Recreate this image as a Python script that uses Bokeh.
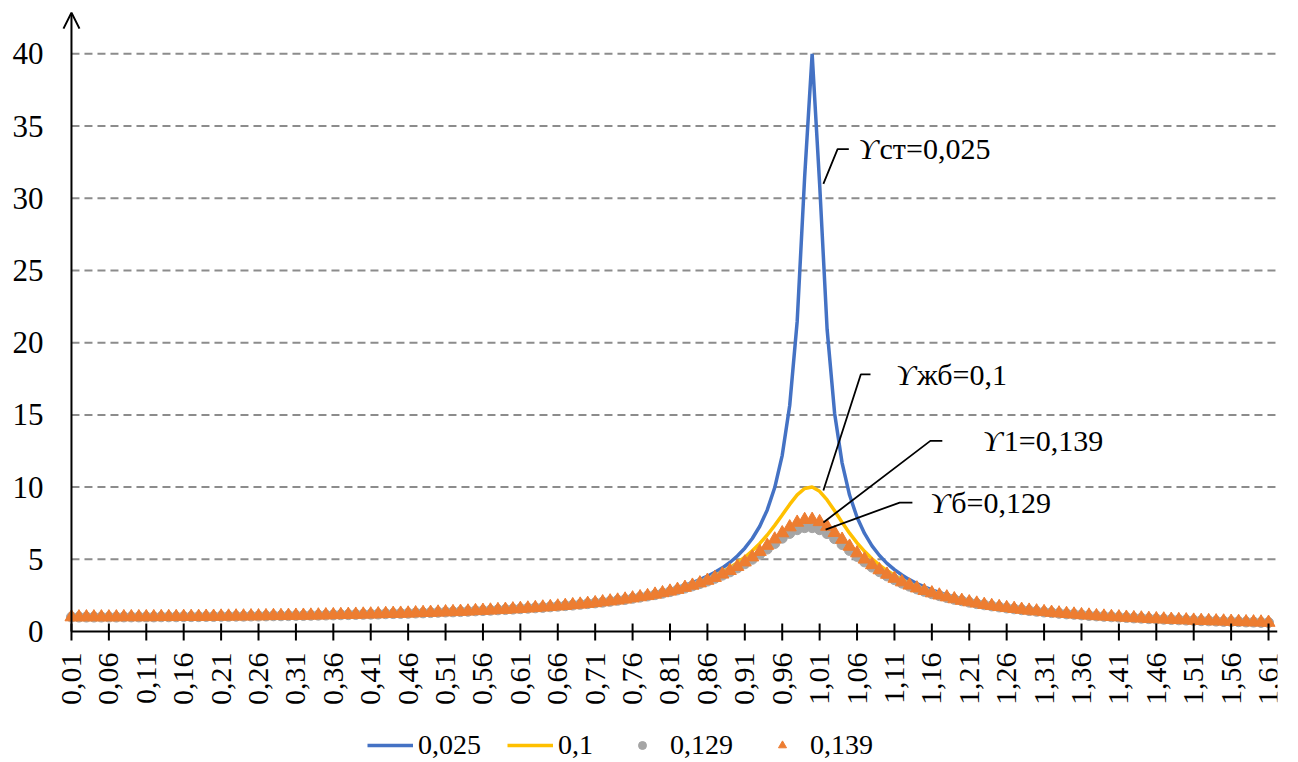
import math
from bokeh.plotting import figure
from bokeh.models import Range1d, FixedTicker, Legend, LegendItem, Arrow, OpenHead
from bokeh.core.properties import value
from bokeh.embed import file_html
from bokeh.resources import INLINE

# ---- data -------------------------------------------------------------
ratio = [round(0.01 * i, 2) for i in range(1, 162)]          # 0,01 ... 1,61
tick_labels = ["{:.2f}".format(r).replace(".", ",") for r in ratio]

series_names = ["0,025", "0,1", "0,129", "0,139"]

low_part = [1.00, 1.00, 1.00, 1.00, 1.00, 1.00, 1.00, 1.01, 1.01, 1.01,
            1.01, 1.01, 1.02, 1.02, 1.02, 1.03, 1.03, 1.03, 1.04, 1.04,
            1.05, 1.05, 1.06, 1.06, 1.07, 1.07, 1.08, 1.09, 1.09, 1.10,
            1.11, 1.11, 1.12, 1.13, 1.14, 1.15, 1.16, 1.17, 1.18, 1.19,
            1.20, 1.21, 1.23, 1.24, 1.25]

blue_vals = low_part + [
    1.27, 1.28, 1.30, 1.32, 1.33,
    1.35, 1.37, 1.39, 1.41, 1.43, 1.46, 1.48, 1.51, 1.53, 1.56,
    1.59, 1.62, 1.66, 1.69, 1.73, 1.77, 1.81, 1.86, 1.91, 1.96,
    2.02, 2.07, 2.14, 2.21, 2.28, 2.37, 2.45, 2.55, 2.66, 2.77,
    2.90, 3.05, 3.21, 3.39, 3.59, 3.83, 4.10, 4.41, 4.78, 5.23,
    5.77, 6.44, 7.29, 8.42, 9.97, 12.20, 15.65, 21.47, 31.49, 40.00,
    30.99, 20.93, 15.12, 11.68, 9.45, 7.91, 6.79, 5.93, 5.26, 4.72,
    4.28, 3.91, 3.59, 3.32, 3.09, 2.88, 2.70, 2.54, 2.40, 2.27,
    2.15, 2.04, 1.95, 1.86, 1.78, 1.70, 1.63, 1.56, 1.50, 1.45,
    1.39, 1.35, 1.30, 1.26, 1.21, 1.18, 1.14, 1.10, 1.07, 1.04,
    1.01, 0.98, 0.96, 0.93, 0.91, 0.88, 0.86, 0.84, 0.82, 0.80,
    0.78, 0.76, 0.75, 0.73, 0.71, 0.70, 0.68, 0.67, 0.65, 0.64, 0.63]

yellow_vals = low_part + [
    1.27, 1.28, 1.30, 1.31, 1.33,
    1.35, 1.37, 1.39, 1.41, 1.43, 1.45, 1.48, 1.50, 1.53, 1.56,
    1.59, 1.62, 1.65, 1.68, 1.72, 1.76, 1.80, 1.85, 1.89, 1.94,
    2.00, 2.05, 2.12, 2.18, 2.25, 2.33, 2.41, 2.50, 2.60, 2.71,
    2.83, 2.96, 3.11, 3.27, 3.45, 3.65, 3.87, 4.13, 4.42, 4.76,
    5.14, 5.59, 6.10, 6.68, 7.35, 8.07, 8.80, 9.46, 9.90, 10.00,
    9.71, 9.11, 8.36, 7.56, 6.81, 6.14, 5.55, 5.04, 4.60, 4.22,
    3.89, 3.60, 3.34, 3.12, 2.92, 2.74, 2.58, 2.44, 2.31, 2.19,
    2.09, 1.99, 1.90, 1.81, 1.74, 1.66, 1.60, 1.54, 1.48, 1.42,
    1.37, 1.33, 1.28, 1.24, 1.20, 1.16, 1.13, 1.09, 1.06, 1.03,
    1.00, 0.97, 0.95, 0.92, 0.90, 0.88, 0.85, 0.83, 0.81, 0.79,
    0.78, 0.76, 0.74, 0.72, 0.71, 0.69, 0.68, 0.66, 0.65, 0.64, 0.62]

gray_vals = low_part + [
    1.26, 1.28, 1.29, 1.31, 1.33,
    1.35, 1.36, 1.38, 1.40, 1.43, 1.45, 1.47, 1.50, 1.52, 1.55,
    1.58, 1.61, 1.64, 1.67, 1.71, 1.75, 1.79, 1.83, 1.88, 1.93,
    1.98, 2.03, 2.09, 2.16, 2.22, 2.30, 2.38, 2.46, 2.55, 2.65,
    2.76, 2.88, 3.01, 3.16, 3.32, 3.49, 3.68, 3.90, 4.13, 4.40,
    4.69, 5.00, 5.35, 5.71, 6.09, 6.46, 6.79, 7.05, 7.19, 7.19,
    7.05, 6.78, 6.43, 6.02, 5.61, 5.20, 4.82, 4.46, 4.14, 3.85,
    3.59, 3.35, 3.14, 2.95, 2.78, 2.62, 2.48, 2.35, 2.23, 2.13,
    2.03, 1.93, 1.85, 1.77, 1.70, 1.63, 1.57, 1.51, 1.45, 1.40,
    1.35, 1.31, 1.26, 1.22, 1.19, 1.15, 1.11, 1.08, 1.05, 1.02,
    0.99, 0.97, 0.94, 0.92, 0.89, 0.87, 0.85, 0.83, 0.81, 0.79,
    0.77, 0.75, 0.74, 0.72, 0.70, 0.69, 0.68, 0.66, 0.65, 0.63, 0.62]

orange_vals = low_part + [
    1.26, 1.28, 1.30, 1.31, 1.33,
    1.35, 1.36, 1.38, 1.40, 1.43, 1.45, 1.47, 1.50, 1.52, 1.55,
    1.58, 1.61, 1.64, 1.68, 1.71, 1.75, 1.79, 1.84, 1.88, 1.93,
    1.98, 2.04, 2.10, 2.16, 2.23, 2.31, 2.39, 2.47, 2.57, 2.67,
    2.78, 2.90, 3.04, 3.19, 3.35, 3.53, 3.73, 3.96, 4.21, 4.49,
    4.80, 5.15, 5.53, 5.95, 6.39, 6.82, 7.23, 7.55, 7.74, 7.75,
    7.59, 7.27, 6.84, 6.37, 5.89, 5.43, 5.00, 4.61, 4.26, 3.95,
    3.67, 3.42, 3.20, 3.00, 2.82, 2.66, 2.51, 2.38, 2.25, 2.14,
    2.04, 1.95, 1.86, 1.78, 1.71, 1.64, 1.58, 1.52, 1.46, 1.41,
    1.36, 1.31, 1.27, 1.23, 1.19, 1.15, 1.12, 1.08, 1.05, 1.02,
    1.00, 0.97, 0.94, 0.92, 0.89, 0.87, 0.85, 0.83, 0.81, 0.79,
    0.77, 0.75, 0.74, 0.72, 0.71, 0.69, 0.68, 0.66, 0.65, 0.64, 0.62]

y_ticks = [0, 5, 10, 15, 20, 25, 30, 35, 40]
x_tick_idx = list(range(0, 161, 5))

# callout labels (Greek symbol + rest) and their leader lines, in data units
ann_symbol = ["ϒ", "ϒ", "ϒ", "ϒ"]
ann_rest = ["ст=0,025", "жб=0,1", "1=0,139", "б=0,129"]
ann_x = [105.2, 110.2, 121.8, 114.8]
ann_y = [33.45, 17.8, 13.25, 8.9]
leader_xs = [[100.5, 102.4, 103.9], [100.5, 105.5, 106.8],
             [100.5, 114.8, 116.4], [100.8, 110.7, 112.4]]
leader_ys = [[31.0, 33.4, 33.4], [9.76, 17.8, 17.8],
             [7.55, 13.2, 13.2], [7.06, 8.93, 8.93]]

# ---- figure -----------------------------------------------------------
FONT = "Liberation Serif"
X_END = 161.2
Y_TOP = 43.0
Y_BOT = -9.07                      # room below the axis for labels + legend
PX = 752.0 / (Y_TOP - Y_BOT)       # pixels per y unit

p = figure(width=1298, height=762,
           x_range=Range1d(-1.6, X_END), y_range=Range1d(Y_BOT, Y_TOP),
           x_axis_location=None,
           output_backend="svg", toolbar_location=None,
           min_border_left=59, min_border_right=21,
           min_border_top=10, min_border_bottom=0)
p.outline_line_color = None
p.background_fill_color = "white"
p.xgrid.visible = False
p.ygrid.visible = False

# value axis labels (Bokeh), its line + arrow drawn at x=0
ya = p.yaxis[0]
ya.ticker = FixedTicker(ticks=y_ticks)
ya.major_label_text_font = FONT
ya.major_label_text_font_size = "31px"
ya.major_label_text_color = "black"
ya.major_label_standoff = 16
ya.axis_line_color = None
ya.major_tick_in = 0
ya.major_tick_out = 0
ya.minor_tick_line_color = None

# dashed horizontal grid, from the value axis to the right end
grid_y = y_ticks[1:]
p.segment(x0=[0] * len(grid_y), y0=grid_y, x1=[X_END] * len(grid_y), y1=grid_y,
          line_color="#8c8c8c", line_width=2, line_dash="8 5")

# series
rb = p.line(list(range(len(blue_vals))), blue_vals, line_color="#4472C4", line_width=3.5)
ry = p.line(list(range(len(yellow_vals))), yellow_vals, line_color="#FFC000", line_width=3.5)
rg = p.scatter(list(range(len(gray_vals))), gray_vals, marker="circle", size=10,
               fill_color="#A5A5A5", line_color="#A5A5A5")
ro = p.scatter(list(range(len(orange_vals))), orange_vals, marker="triangle", size=13,
               fill_color="#ED7D31", line_color="#ED7D31")

# category axis: line, tick marks crossing it, vertical labels
p.segment(x0=[0], y0=[0], x1=[X_END], y1=[0], line_color="black", line_width=2)
p.segment(x0=x_tick_idx, y0=[8 / PX] * len(x_tick_idx),
          x1=x_tick_idx, y1=[-9 / PX] * len(x_tick_idx),
          line_color="black", line_width=2)
p.text(x_tick_idx, [-21 / PX] * len(x_tick_idx), text=[tick_labels[i] for i in x_tick_idx],
       angle=math.pi / 2, text_align="right", text_baseline="middle",
       text_font=value(FONT), text_font_size="30px", text_color="black")

# value axis line with open arrow head
p.add_layout(Arrow(end=OpenHead(size=16, line_width=2, line_color="black"),
                   line_width=2, line_color="black",
                   x_start=0, y_start=0, x_end=0, y_end=42.85))

# callouts
p.multi_line(leader_xs, leader_ys, line_color="black", line_width=1.8)
p.text(ann_x, ann_y, text=ann_symbol, text_font=value(FONT), text_font_style="italic",
       text_font_size="30px", text_baseline="middle", text_align="left", text_color="black")
p.text(ann_x, ann_y, text=ann_rest, x_offset=21, text_font=value(FONT),
       text_font_size="30px", text_baseline="middle", text_align="left", text_color="black")

# legend (inside the extended frame, below the axis labels)
legend = Legend(items=[LegendItem(label=series_names[0], renderers=[rb]),
                       LegendItem(label=series_names[1], renderers=[ry]),
                       LegendItem(label=series_names[2], renderers=[rg]),
                       LegendItem(label=series_names[3], renderers=[ro])],
                orientation="horizontal", location=(308, 1),
                padding=0, margin=0, spacing=26, glyph_width=46, glyph_height=20,
                label_standoff=5, label_text_font=FONT, label_text_font_size="28px",
                label_text_color="black", border_line_color=None,
                background_fill_alpha=0)
p.add_layout(legend)

open("out.html", "w").write(file_html(p, INLINE))
